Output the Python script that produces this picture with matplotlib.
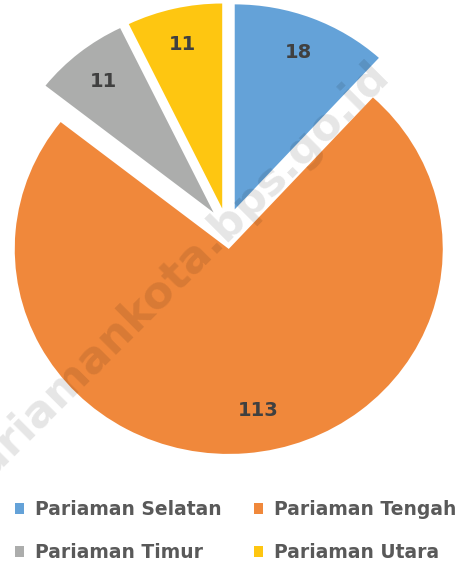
import matplotlib.pyplot as plt
from matplotlib.patches import Patch

kecamatan = ['Pariaman Selatan', 'Pariaman Tengah', 'Pariaman Timur', 'Pariaman Utara']
jumlah = [18, 113, 11, 11]
warna = ['#64A2D8', '#F0883B', '#ACADAC', '#FEC611']

fig = plt.figure(figsize=(4.73, 5.65), dpi=100)
ax = fig.add_axes([0, 0, 1, 1])

total = sum(jumlah)
wedges, _, angka = ax.pie(jumlah, colors=warna, startangle=90, counterclock=False,
                          explode=[0.1] * 4, pctdistance=0.82,
                          autopct=lambda p: '%d' % round(p * total / 100),
                          textprops=dict(color='#404040', fontsize=14, fontweight='bold'))
ax.set_aspect('auto')
# piksel per satuan: 214 mendatar, 205 tegak, pusat di (227, 228.5)
ax.set_xlim(-227 / 214, (473 - 227) / 214)
ax.set_ylim(-(565 - 228.5) / 205, 228.5 / 205)
ax.axis('off')

# label 113 sedikit digeser ke kanan
x, y = angka[1].get_position()
angka[1].set_position((x + 0.07, y + 0.03))

# watermark
ax.text((170 - 227) / 214, (228.5 - 279) / 205, 'pariamankota.bps.go.id',
        rotation=45, ha='center', va='center', fontsize=32, fontweight='bold',
        color='black', alpha=0.1, zorder=5)

# legend diisi per kolom, jadi urutannya disusun ulang supaya baris pertama Selatan-Tengah
urut = [0, 2, 1, 3]
handles = [Patch(facecolor=warna[i], edgecolor='none') for i in urut]
labels = [kecamatan[i] for i in urut]
fig.legend(handles, labels, ncol=2, loc='lower left', bbox_to_anchor=(-0.005, -0.025),
           frameon=False, handlelength=0.5, handleheight=0.5, handletextpad=0.6,
           columnspacing=1.7, labelspacing=1.3,
           prop=dict(size=13.5, weight='bold'), labelcolor='#595959')

plt.savefig('out.png', dpi=100)
